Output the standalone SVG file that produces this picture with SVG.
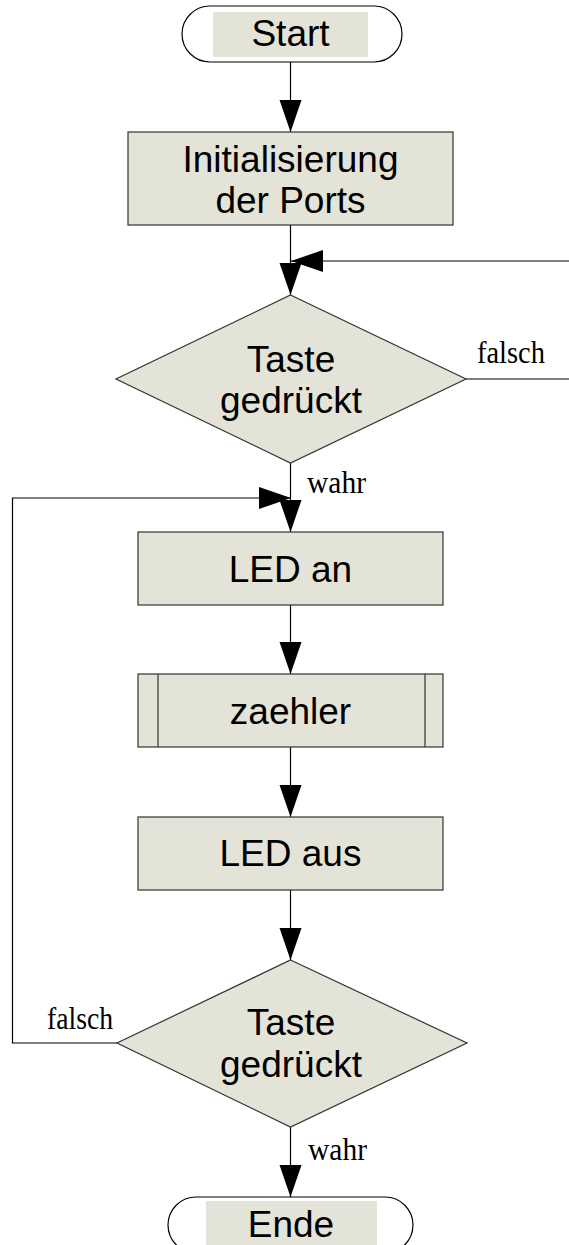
<svg xmlns="http://www.w3.org/2000/svg" width="569" height="1245" viewBox="0 0 569 1245">
<style>
.term{fill:#ffffff;stroke:#000000;stroke-width:1.2}
.tfill{fill:#e3e3d7;stroke:none}
.box{fill:#e3e3d7;stroke:#333333;stroke-width:1.2}
.sub{fill:none;stroke:#333333;stroke-width:1.2}
.t{font-family:"Liberation Sans",Arial,sans-serif;font-size:37px;fill:#000000;text-anchor:middle}
.lbl{font-family:"Liberation Serif","Times New Roman",serif;font-size:31px;fill:#000000}
.edge{fill:none;stroke:#000000;stroke-width:1.2}
</style>
<defs>
<marker id="arr" markerUnits="userSpaceOnUse" markerWidth="33" markerHeight="23" refX="32" refY="11" orient="auto" viewBox="0 0 33 23">
<path d="M0,0 L32,11 L0,22 Z" fill="#000000"/>
</marker>
</defs>
<g id="connectors">
<path class="edge" d="M290.5,62 V132" marker-end="url(#arr)"/>
<path class="edge" d="M290.5,225 V295" marker-end="url(#arr)"/>
<path class="edge" d="M466,379 H572 V261 H291" marker-end="url(#arr)"/>
<path class="edge" d="M290.5,463 V532" marker-end="url(#arr)"/>
<path class="edge" d="M117,1043 H12.5 V498 H291" marker-end="url(#arr)"/>
<path class="edge" d="M290.5,605 V674" marker-end="url(#arr)"/>
<path class="edge" d="M290.5,747 V817" marker-end="url(#arr)"/>
<path class="edge" d="M290.5,890 V960" marker-end="url(#arr)"/>
<path class="edge" d="M290.5,1127 V1197" marker-end="url(#arr)"/>
<text class="lbl" x="477" y="363" textLength="68" lengthAdjust="spacingAndGlyphs">falsch</text>
<text class="lbl" x="307" y="493" textLength="59" lengthAdjust="spacingAndGlyphs">wahr</text>
<text class="lbl" x="47" y="1029" textLength="66" lengthAdjust="spacingAndGlyphs">falsch</text>
<text class="lbl" x="308" y="1160" textLength="59" lengthAdjust="spacingAndGlyphs">wahr</text>
</g>
<g id="start">
<rect class="term" x="182" y="6" width="220" height="56" rx="28" ry="28"/>
<rect class="tfill" x="213" y="12" width="155" height="45"/>
<text class="t" x="290.5" y="46">Start</text>
</g>
<g id="init">
<rect class="box" x="128" y="132" width="325" height="93"/>
<text class="t" x="290.5" y="172">Initialisierung</text>
<text class="t" x="290.5" y="213">der Ports</text>
</g>
<g id="decision1">
<polygon class="box" points="290.5,295 466,379 290.5,463 116,379"/>
<text class="t" x="291" y="372">Taste</text>
<text class="t" x="291" y="413">gedrückt</text>
</g>
<g id="ledan">
<rect class="box" x="138" y="532" width="305" height="73"/>
<text class="t" x="290.5" y="582">LED an</text>
</g>
<g id="zaehler">
<rect class="box" x="138" y="674" width="305" height="73"/>
<line class="sub" x1="158" y1="674" x2="158" y2="747"/>
<line class="sub" x1="425" y1="674" x2="425" y2="747"/>
<text class="t" x="290.5" y="724">zaehler</text>
</g>
<g id="ledaus">
<rect class="box" x="138" y="817" width="305" height="73"/>
<text class="t" x="290.5" y="866">LED aus</text>
</g>
<g id="decision2">
<polygon class="box" points="290.5,960 467,1043 290.5,1127 117,1043"/>
<text class="t" x="291" y="1035">Taste</text>
<text class="t" x="291" y="1077">gedrückt</text>
</g>
<g id="ende">
<rect class="term" x="168" y="1197" width="245" height="56" rx="28" ry="28"/>
<rect class="tfill" x="206" y="1201" width="171" height="48"/>
<text class="t" x="291" y="1237">Ende</text>
</g>
</svg>
